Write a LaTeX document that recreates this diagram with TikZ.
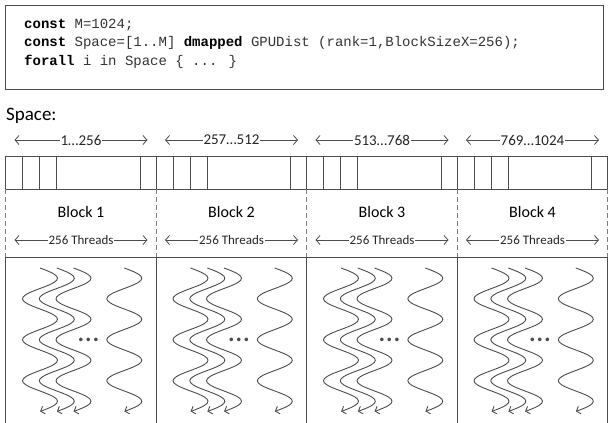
\documentclass[tikz,border=0pt]{standalone}
\usepackage{fontspec}
\setmainfont{Carlito}
\newfontfamily\kodefont{Liberation Mono}
\usetikzlibrary{arrows.meta}
\definecolor{garis}{gray}{0.3}
\tikzset{
  panah/.style={{Straight Barb[length=4pt,width=9pt]}-{Straight Barb[length=4pt,width=9pt]}, garis, line width=0.8pt},
  benang/.style={-{Straight Barb[length=3.5pt,width=8pt]}, garis, line width=0.9pt},
  kode/.style={anchor=base west, inner sep=0pt, text=black!80, font=\kodefont\fontsize{14}{14}\selectfont},
  rentang/.style={fill=white, inner sep=1pt, text=black!85, font=\fontsize{15}{15}\selectfont},
  putus/.style={gray, dashed, dash pattern=on 5pt off 3pt, line width=0.8pt}
}
\begin{document}
\begin{tikzpicture}[x=1pt, y=-1pt]
    \useasboundingbox (0,0) rectangle (608,423);

    % Kotak kode
    \draw[garis, line width=1pt] (5.5,5) rectangle (603,89);
    \node[kode] (kode1) at (24,28) {\textcolor{black}{\textbf{const}} M=1024;};
    \node[kode] (kode2) at (24,46.5) {\textcolor{black}{\textbf{const}} Space=[1..M] \textcolor{black}{\textbf{dmapped}} GPUDist (rank=1,BlockSizeX=256);};
    \node[kode] (kode3) at (24,65) {\textcolor{black}{\textbf{forall}} i in Space \{ ... \}};

    % Judul ruang
    \node[anchor=base west, inner sep=0pt, font=\fontsize{19}{19}\selectfont] (judul) at (6,120) {Space:};

    % Pita elemen
    \draw[garis, line width=1pt] (5.5,156) rectangle (607.5,189);

    % Tiap blok: rentang, sel, label, benang
    \foreach \b/\teks in {0/1…256, 1/257…512, 2/513…768, 3/769…1024} {
        \coordinate (ra\b) at (5.5+150.5*\b+9, 140);
        \coordinate (rb\b) at (5.5+150.5*\b+142, 140);
        \draw[panah] (ra\b) -- (rb\b) node[rentang, midway] (rlabel\b) {\teks};

        \foreach \c in {17,34,51,134.5,150.5}
            \draw[garis, line width=1pt] (5.5+150.5*\b+\c,156) -- (5.5+150.5*\b+\c,189);

        \node[anchor=base, inner sep=0pt, font=\fontsize{16}{16}\selectfont] (blok\b) at (5.5+150.5*\b+75.5,217) {Block \pgfmathparse{int(\b+1)}\pgfmathresult};

        \coordinate (ta\b) at (5.5+150.5*\b+9, 240);
        \coordinate (tb\b) at (5.5+150.5*\b+142, 240);
        \draw[panah] (ta\b) -- (tb\b) node[rentang, midway, font=\fontsize{13}{13}\selectfont] (tlabel\b) {256 Threads};

        % Benang bergelombang
        \foreach \dx in {34.5,51.3,68,118.8}
            \draw[benang] plot[smooth, domain=0:3.5, samples=71, variable=\t]
                ({5.5+150.5*\b+\dx+17.5*sin(360*\t)}, {268+41*\t});
        \node[anchor=base, inner sep=0pt, text=garis, font=\fontsize{30}{30}\selectfont] (titik\b) at (5.5+150.5*\b+83,341) {…};
    }

    % Garis putus-putus antar blok
    \foreach \b in {0,...,4}
        \draw[putus] (5.5+150.5*\b,189) -- (5.5+150.5*\b,257);

    % Kotak benang
    \draw[garis, line width=1pt] (5.5,430) -- (5.5,257) -- (607.5,257) -- (607.5,430);
    \foreach \b in {1,2,3}
        \draw[garis, line width=1pt] (5.5+150.5*\b,257) -- (5.5+150.5*\b,430);

\end{tikzpicture}
\end{document}
